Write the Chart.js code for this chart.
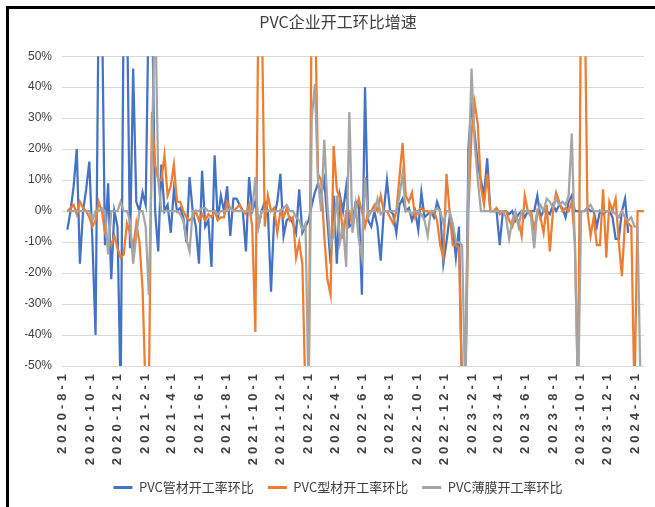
<!DOCTYPE html>
<html>
<head>
<meta charset="utf-8">
<script src="https://cdn.jsdelivr.net/npm/chart.js@4.4.0/dist/chart.umd.min.js"></script>
<style>
html, body { margin: 0; padding: 0; background: #fff; }
#wrap { position: relative; width: 655px; height: 507px; overflow: hidden; }
#frame { position: absolute; left: 6px; top: 6px; width: 660px; height: 520px; border-left: 3px solid #000; border-top: 3px solid #000; pointer-events: none; }
canvas { position: absolute; left: 0; top: 0; }
</style>
</head>
<body>
<div id="wrap"><canvas id="pvcChart" width="655" height="507"></canvas><div id="frame"></div></div>
<script>
// weekly readings, the first one dated 2020-08-11
const firstWeek = '2020-08-11';

const tickLabels = ['2020-8-1', '2020-10-1', '2020-12-1', '2021-2-1', '2021-4-1', '2021-6-1',
  '2021-8-1', '2021-10-1', '2021-12-1', '2022-2-1', '2022-4-1', '2022-6-1', '2022-8-1',
  '2022-10-1', '2022-12-1', '2023-2-1', '2023-4-1', '2023-6-1', '2023-8-1', '2023-10-1',
  '2023-12-1', '2024-2-1'];

// PVC管材开工率环比 (%)
const pipeRate = [
  -6, 0, 8, 20, -17, 0, 7, 16, -10, -40,
  70, 70, -11, 9, -22, 0, -5, -60, 70, 70,
  -12, 46, 3, 0, 6, 2, 70, 70, 0, -13,
  15, 0, 2, -7, 7, 0, 1, -2, -10, 11,
  0, -5, -17, 13, -5, -3, -18, 18, -3, 5,
  0, 8, -8, 4, 4, 2, 0, -13, 11, 0,
  3, -5, 0, 3, 0, -26, -2, 3, 12, -8,
  -3, -2, -4, -7, 7, -7, -5, -3, 2, 6,
  9, 5, 10, -3, -17, 5, -17, 5, 0, 8,
  -5, -4, 3, 3, -27, 40, -3, -5, 0, -5,
  -16, 0, 10, 0, -1, -7, 2, 4, 0, 1,
  -3, 0, -6, 6, -2, -1, 0, -2, 3, 0,
  -17, -10, -2, -5, -15, -5, -60, -60, 20, 35,
  25, 15, 10, 5, 17, 0, 0, 0, -11, 0,
  0, -1, 0, -3, -1, 0, -2, 0, 0, 0,
  5, -2, 0, 0, -1, 2, 0, 2, 1, -2,
  3, 5, 0, 0, 0, 0, 1, 0, 0, -5,
  0, -1, 0, 0, -2, -9, -9, 0, 4, -7
];

// PVC型材开工率环比 (%)
const profileRate = [
  0, 1, 2, -1, 3, 1, 0, -2, -5, -3,
  3, 0, -7, -10, -11, -8, -12, -15, -14, -4,
  -7, -12, -4, -10, -25, -60, -60, 32, 15, 10,
  10, 18, 5, 8, 15, 3, 3, 0, -2, -3,
  -2, 0, -3, -1, -3, -1, -2, 0, -3, -2,
  -2, 3, 1, 0, 1, 2, 0, -1, 2, -5,
  -39, 70, 70, -5, 5, 0, 1, -7, 0, -2,
  1, -3, -2, -15, -10, -17, -60, -60, 70, 70,
  12, 10, -8, -22, -27, 21, 7, 4, -9, 0,
  0, -5, 0, 4, 0, -5, 0, 0, 2, 0,
  5, 0, 0, -2, -4, 0, 11, 22, 5, 3,
  6, -2, 0, 1, 0, 0, -1, 0, -3, -11,
  -15, 12, 0, -11, -11, -12, -60, -60, 0, 25,
  35, 28, 8, 2, 12, 0, 0, 1, -1, 0,
  0, -3, -5, -2, -3, -8, 5, 0, 0, -6,
  0, -2, -7, 2, -13, 0, 6, 3, 0, 1,
  0, 3, -10, -60, 80, 80, 0, -8, -2, -11,
  -11, 7, -15, 3, 0, 4, -10, -21, -3, -4,
  -5, -60, 0, 0, 0
];

// PVC薄膜开工率环比 (%)
const filmRate = [
  0, 0, 0, 0, 0, 0, 0, 0, -3, 0,
  0, 1, 0, -14, 0, 0, 0, 3, 0, 0,
  -3, -17, -8, 0, 0, -5, -27, 20, 70, 10,
  0, 0, 0, 0, 0, 0, -1, -3, -9, -13,
  0, 0, 0, 1, 1, 0, 0, 0, -1, 0,
  0, 0, 1, 0, 0, 0, 0, 0, 0, 0,
  11, -5, 0, 0, 0, 0, 0, 0, 0, 1,
  2, 0, 0, -2, -3, -6, -4, -60, 30, 41,
  10, 0, 23, 2, -11, -8, 5, -10, -5, -18,
  32, -7, 2, -9, -15, 11, -2, 0, 0, 4,
  -1, 0, 0, 0, 0, 0, 5, 12, 0, 0,
  -1, 0, 0, -1, -3, -8, 0, 0, 1, 0,
  -4, 0, 0, -4, -10, -10, -11, -60, 10, 46,
  22, 10, 0, 0, 0, 0, 0, 0, 0, 0,
  -2, -9, -3, 0, -5, 0, 0, 0, -2, -12,
  0, 2, 0, 4, 3, 1, 4, 2, 3, 2,
  5, 25, -12, -60, 0, 0, 1, 2, 0, 0,
  0, 0, 0, 0, 0, -1, -2, 0, -2, -3,
  -2, -5, -5, -60
];

// days since 2020-08-01
function dayNo(s) {
  const [y, m, d] = s.split('-').map(Number);
  return (Date.UTC(y, m - 1, d) - Date.UTC(2020, 7, 1)) / 86400000;
}
const start = dayNo(firstWeek);
const toPoints = arr => arr.map((v, i) => ({ x: start + 7 * i, y: v }));

const latin = "'Liberation Sans', Arial, sans-serif";
const cjk = "'Noto Sans CJK SC', sans-serif";

// x tick labels in the reference are widely spaced
const spacedLabels = {
  id: 'spacedLabels',
  afterDatasetsDraw(chart) { chart.ctx.letterSpacing = '4px'; },
  afterDraw(chart) { chart.ctx.letterSpacing = '0px'; }
};

const ctx = document.getElementById('pvcChart').getContext('2d');
const pvcChart = new Chart(ctx, {
  type: 'line',
  data: {
    datasets: [{
      label: 'PVC管材开工率环比',
      data: toPoints(pipeRate),
      borderColor: '#4472C4',
      backgroundColor: '#4472C4',
      order: 3
    }, {
      label: 'PVC型材开工率环比',
      data: toPoints(profileRate),
      borderColor: '#ED7D31',
      backgroundColor: '#ED7D31',
      order: 2
    }, {
      label: 'PVC薄膜开工率环比',
      data: toPoints(filmRate),
      borderColor: '#A5A5A5',
      backgroundColor: '#A5A5A5',
      order: 1
    }]
  },
  options: {
    responsive: false,
    animation: false,
    devicePixelRatio: 1,
    layout: { padding: { left: 25, right: 4, top: 0, bottom: 3 } },
    elements: {
      line: { borderWidth: 2.25, tension: 0 },
      point: { radius: 0 }
    },
    scales: {
      x: {
        type: 'linear',
        min: -2,
        max: 1299,
        afterBuildTicks: s => { s.ticks = tickLabels.map(t => ({ value: dayNo(t) })); },
        afterFit: s => { s.height = 101; },
        grid: { display: false, drawTicks: false },
        border: { display: false },
        ticks: {
          autoSkip: false,
          minRotation: 90,
          maxRotation: 90,
          padding: 4,
          z: 1,
          color: '#404040',
          font: { family: latin, size: 13, weight: 'bold' },
          callback: (v, i) => tickLabels[i]
        }
      },
      y: {
        min: -50,
        max: 50,
        afterFit: s => { s.width = 37; },
        grid: { color: '#D9D9D9', drawTicks: false },
        border: { display: false },
        ticks: {
          stepSize: 10,
          padding: 10,
          color: '#404040',
          font: { family: latin, size: 12 },
          callback: v => v + '%'
        }
      }
    },
    plugins: {
      title: {
        display: true,
        text: 'PVC企业开工环比增速',
        color: '#404040',
        font: { family: cjk, size: 16, weight: 'normal' },
        padding: { top: 12, bottom: 25 }
      },
      legend: {
        position: 'bottom',
        labels: {
          usePointStyle: true,
          pointStyle: 'line',
          pointStyleWidth: 19,
          padding: 14,
          color: '#404040',
          font: { family: cjk, size: 13 },
          generateLabels: chart => Chart.defaults.plugins.legend.labels.generateLabels(chart)
            .map(item => Object.assign(item, { lineWidth: 3 })),
          sort: (a, b) => a.datasetIndex - b.datasetIndex
        }
      },
      tooltip: { enabled: false }
    }
  },
  plugins: [spacedLabels]
});
</script>
</body>
</html>
